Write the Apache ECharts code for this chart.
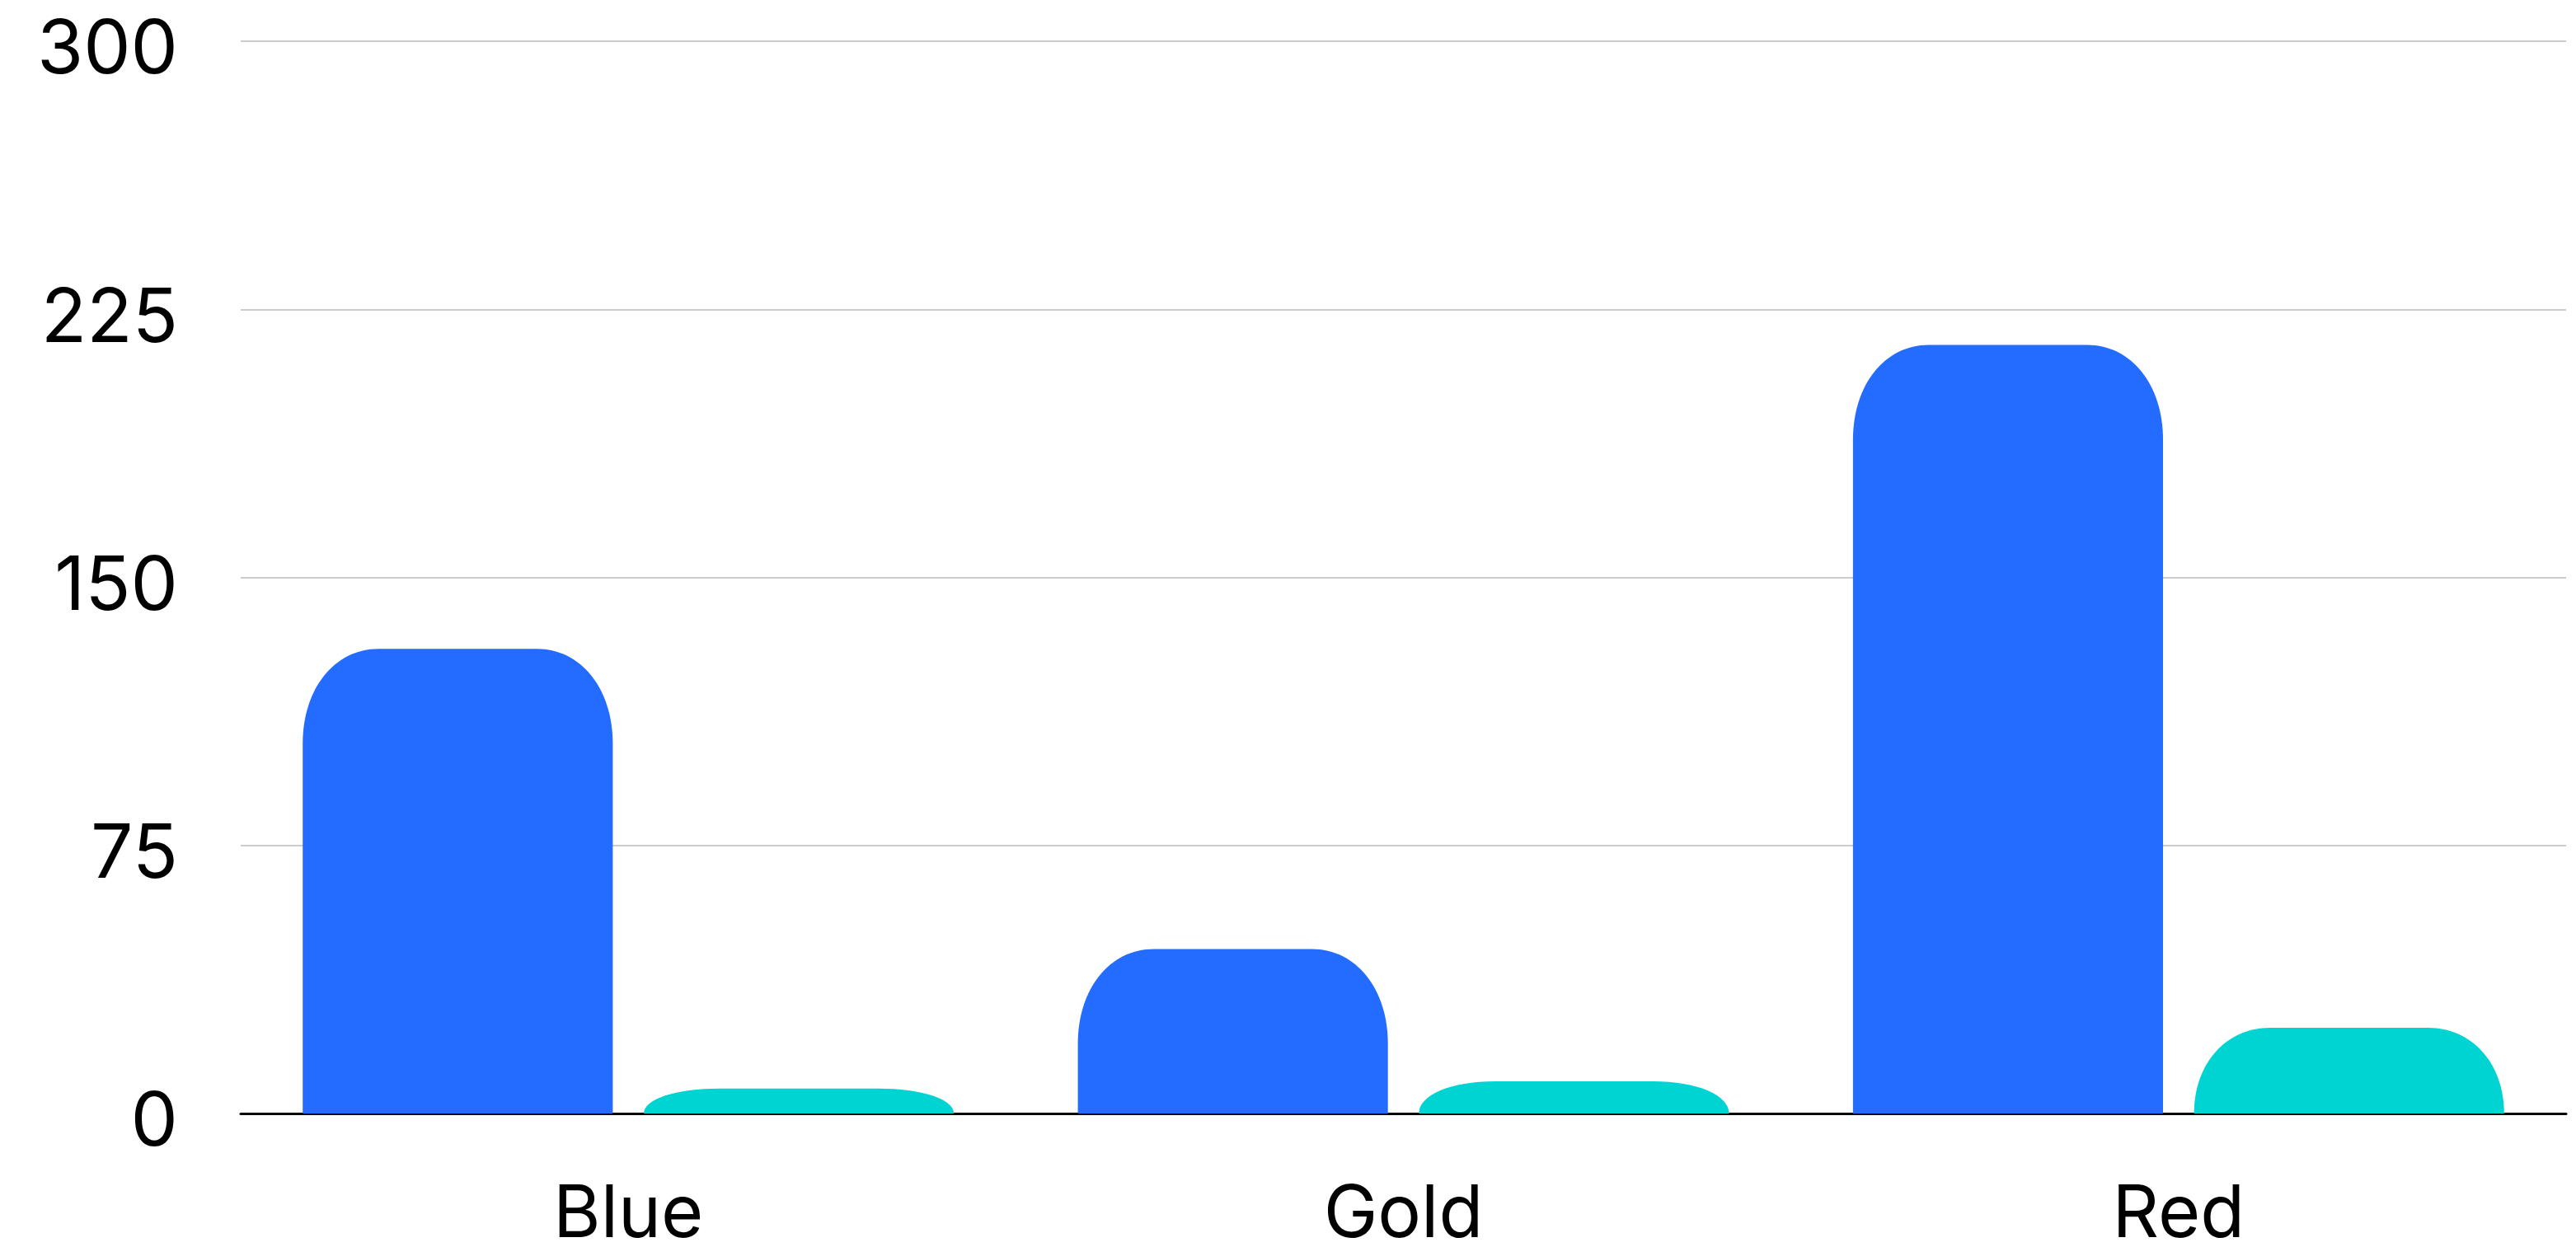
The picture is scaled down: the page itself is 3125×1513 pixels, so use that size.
<!DOCTYPE html>
<html>
<head>
<meta charset="utf-8">
<script src="https://cdn.jsdelivr.net/npm/echarts@6/dist/echarts.min.js"></script>
<style>
  html, body { margin: 0; padding: 0; background: #ffffff; }
  #chart { width: 3125px; height: 1513px; }
</style>
</head>
<body>
<div id="chart"></div>
<script>
const categories = ['Blue', 'Gold', 'Red'];
const seriesA = [130, 46, 215];
const seriesB = [7, 9, 24];
const yTicks = [0, 75, 150, 225, 300];

const seriesColors = ['#246CFF', '#00D4D2'];
const FONT = 'Inter, "Noto Sans", sans-serif';

// bar layout styling (fractions of the category band)
const BAR_FRAC = 0.4;
const GAP_FRAC = 0.1;   // gap relative to bar width
const CORNER_RX = 92;
const CORNER_RY = 115;

function makeRenderer(seriesPos, seriesCount) {
  return function (params, api) {
    const idx = api.value(0);
    const val = api.value(1);
    const base = api.coord([idx, 0]);
    const top = api.coord([idx, val]);
    const band = api.size([1, 0])[0];
    const w = band * BAR_FRAC;
    const gap = w * GAP_FRAC;
    const groupW = seriesCount * w + (seriesCount - 1) * gap;
    const x0 = base[0] - groupW / 2 + seriesPos * (w + gap);
    const x1 = x0 + w;
    const yb = base[1];
    const yt = top[1];
    const h = yb - yt;
    const rx = Math.min(CORNER_RX, w / 2);
    const ry = Math.min(CORNER_RY, h);
    const k = 0.42;
    const d = [
      'M', x0, yb,
      'L', x0, yt + ry,
      'C', x0, yt + ry * k, x0 + rx * k, yt, x0 + rx, yt,
      'L', x1 - rx, yt,
      'C', x1 - rx * k, yt, x1, yt + ry * k, x1, yt + ry,
      'L', x1, yb,
      'Z'
    ].join(' ');
    return {
      type: 'path',
      shape: { pathData: d },
      style: { fill: seriesColors[seriesPos] }
    };
  };
}

const dataA = categories.map((c, i) => [i, seriesA[i]]);
const dataB = categories.map((c, i) => [i, seriesB[i]]);

const chart = echarts.init(document.getElementById('chart'), null, { renderer: 'canvas' });

chart.setOption({
  backgroundColor: '#ffffff',
  animation: false,
  grid: { left: 292, right: 12, top: 50, bottom: 162, containLabel: false, outerBoundsMode: 'none' },
  xAxis: {
    type: 'category',
    data: categories,
    axisLine: { show: true, lineStyle: { color: '#000000', width: 3 } },
    axisTick: { show: false },
    axisLabel: { color: '#000000', fontFamily: FONT, fontSize: 88, margin: 80 },
    splitLine: { show: false }
  },
  yAxis: {
    type: 'value',
    min: yTicks[0],
    max: yTicks[yTicks.length - 1],
    interval: yTicks[1] - yTicks[0],
    axisLine: { show: false },
    axisTick: { show: false },
    axisLabel: { color: '#000000', fontFamily: FONT, fontSize: 91, margin: 76, verticalAlign: 'top', lineHeight: 24 },
    splitLine: { show: true, lineStyle: { color: '#cccccc', width: 2 } }
  },
  series: [
    {
      type: 'custom',
      name: 'A',
      data: dataA,
      encode: { x: 0, y: 1 },
      renderItem: makeRenderer(0, 2),
      z: 2
    },
    {
      type: 'custom',
      name: 'B',
      data: dataB,
      encode: { x: 0, y: 1 },
      renderItem: makeRenderer(1, 2),
      z: 2
    }
  ]
});
</script>
</body>
</html>
